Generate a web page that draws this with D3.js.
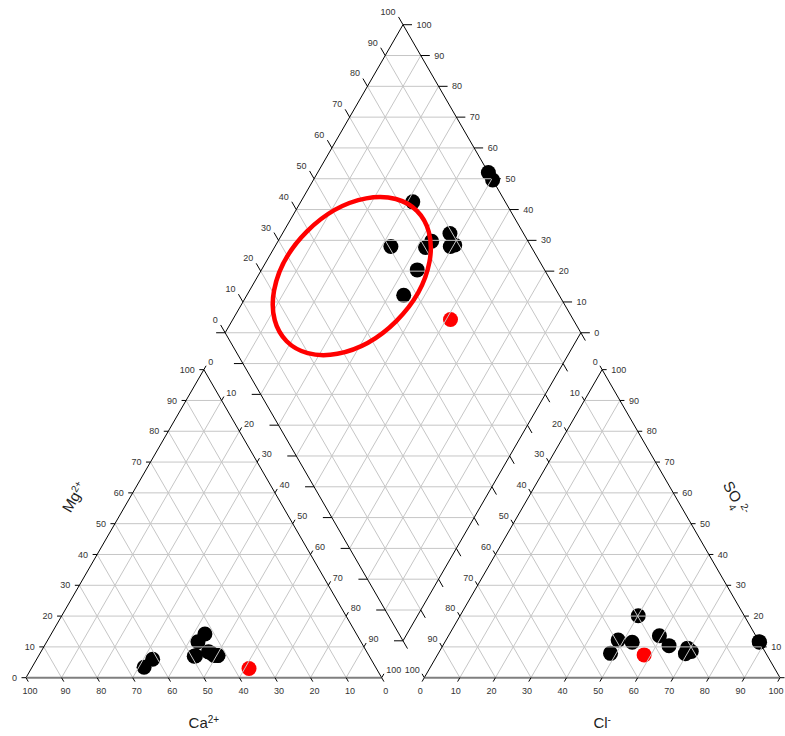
<!DOCTYPE html>
<html>
<head>
<meta charset="utf-8">
<script src="https://cdn.jsdelivr.net/npm/d3@7/dist/d3.min.js"></script>
<style>
  html, body { margin: 0; padding: 0; background: #fff; }
  svg { display: block; font-family: "Liberation Sans", Arial, sans-serif; }
</style>
</head>
<body>
<svg id="piper"></svg>
<script>
// samples (percent of meq)
const sampleIds = ['a', 'b', 'c', 'd', 'e', 'f', 'g', 'h', 'i', 'j', 'k', 'r'];
const ca  = [65.1, 61.4, 45.8, 42.6, 44.5, 42.5, 49.2, 48.8, 44.0, 42.4, 43.5, 35.8];
const mg  = [ 3.4,  6.0, 11.7, 14.2,  8.4,  7.2,  7.0,  7.1,  8.0,  7.2,  7.2,  3.0];
const cl  = [63.6, 48.4, 50.1, 59.3, 70.8, 69.2, 52.7, 48.4, 88.5, 88.3, 69.5, 58.1];
const so4 = [10.4, 12.2, 20.1, 13.6,  8.5,  9.6, 11.5,  7.9, 11.5, 11.7,  7.8,  7.4];
const group = ['base', 'base', 'base', 'base', 'base', 'base', 'base', 'base', 'base', 'base', 'base', 'other'];

const ticks = [0, 10, 20, 30, 40, 50, 60, 70, 80, 90, 100];
const gridSteps = [10, 20, 30, 40, 50, 60, 70, 80, 90];

// highlighted zone in the diamond (Na+K %, Cl+SO4 %, radii in % of a side)
const zoneCenter = [26.4, 44.8];
const zoneRadii = [25.9, 17.8];

const width = 785, height = 736;
const side = 355.7, gap = 42.6;
const x0 = 26, y0 = 677.7;
const h = side * Math.sqrt(3) / 2;
const colors = { base: '#000000', other: '#ff0000' };

const svg = d3.select('#piper').attr('width', width).attr('height', height);

const xCat = d3.scaleLinear().domain([0, 100]).range([x0, x0 + side]);
const xAn = d3.scaleLinear().domain([0, 100]).range([x0 + side + gap, x0 + 2 * side + gap]);
const yS = d3.scaleLinear().domain([0, 100]).range([y0, y0 - h]);
const len = d3.scaleLinear().domain([0, 100]).range([0, side]);

// b = bottom-right component, c = apex component
const cat = (b, c) => [xCat(b + c / 2), yS(c)];
const an = (b, c) => [xAn(b + c / 2), yS(c)];
const dia = (n, cs) => {
  const t = 100 + gap / side * 100 + cs - n;
  return [xCat(n + t / 2), yS(t)];
};

const samples = sampleIds.map((id, i) => ({
  id, group: group[i],
  cat: cat(100 - ca[i] - mg[i], mg[i]),
  an: an(cl[i], so4[i]),
  dia: dia(100 - ca[i] - mg[i], cl[i] + so4[i])
}));

// points (grid goes over them)
const pts = svg.append('g');
['cat', 'an', 'dia'].forEach(k => {
  pts.selectAll(null).data(samples).enter().append('circle')
    .attr('cx', d => d[k][0]).attr('cy', d => d[k][1]).attr('r', 7.5)
    .attr('fill', d => colors[d.group]);
});

// grid
const grid = svg.append('g').attr('stroke', '#c6c6c6').attr('stroke-width', 1).attr('fill', 'none');
const seg = (g, p, q) => g.append('line').attr('x1', p[0]).attr('y1', p[1]).attr('x2', q[0]).attr('y2', q[1]);

[cat, an].forEach(f => {
  gridSteps.forEach(v => {
    seg(grid, f(0, v), f(100 - v, v));
    seg(grid, f(100 - v, 0), f(0, 100 - v));
    seg(grid, f(v, 0), f(v, 100 - v));
  });
});
gridSteps.forEach(v => {
  seg(grid, dia(v, 0), dia(v, 100));
  seg(grid, dia(0, v), dia(100, v));
});
d3.range(-90, 100, 10).forEach(d => {
  if (d >= 0) seg(grid, dia(0, d), dia(100 - d, 100));
  else seg(grid, dia(-d, 0), dia(100, 100 + d));
});

// outlines
const edges = svg.append('g').attr('fill', 'none');
[cat, an].forEach(f => {
  edges.append('path').attr('stroke', '#000').attr('stroke-width', 1)
    .attr('d', d3.line()([f(0, 0), f(0, 100), f(100, 0)]));
  edges.append('path').attr('stroke', '#7f7f7f').attr('stroke-width', 2)
    .attr('d', d3.line()([f(0, 0), f(100, 0)]));
});
edges.append('path').attr('stroke', '#000').attr('stroke-width', 1)
  .attr('d', d3.line()([dia(0, 0), dia(0, 100), dia(100, 100), dia(100, 0)]) + 'Z');

// ticks and labels
const tk = svg.append('g').attr('stroke', '#000').attr('stroke-width', 1);
const lb = svg.append('g').attr('font-size', 9).attr('fill', '#333');
const c60 = 0.5, s60 = Math.sqrt(3) / 2;

function axis(pointFn, dir, tickLen, labelOff, anchor, textFn, fixedY) {
  ticks.forEach(v => {
    const p = pointFn(v);
    seg(tk, p, [p[0] + dir[0] * tickLen, p[1] + dir[1] * tickLen]);
    if (!textFn) return;
    const lx = p[0] + dir[0] * labelOff[0];
    const ly = fixedY != null ? fixedY : p[1] + dir[1] * labelOff[1];
    if (anchor === 'start' && lx + 6 > width) return; // falls outside the page
    lb.append('text').attr('x', lx).attr('y', ly).attr('dy', '0.35em')
      .attr('text-anchor', anchor).text(textFn(v));
  });
}

// cation triangle
axis(v => cat(0, v), [-1, 0], 4.5, [9, 0], 'end', v => v);
axis(v => cat(v, 0), [c60, s60], 4.5, [8, 0], 'middle', v => 100 - v, 691);
axis(v => cat(v, 100 - v), [c60, -s60], 4.5, [9, 9], 'start', v => v);
// anion triangle
axis(v => an(v, 0), [-c60, s60], 4.5, [8, 0], 'middle', v => v, 691);
axis(v => an(100 - v, v), [1, 0], 4.5, [9, 0], 'start', v => v);
axis(v => an(0, 100 - v), [-c60, -s60], 4.5, [9, 9], 'end', v => v);
// diamond
axis(v => dia(0, v), [-c60, -s60], 9, [15, 15], 'end', v => v);
axis(v => dia(v, 100), [1, 0], 9, [13.5, 0], 'start', v => 100 - v);
axis(v => dia(v, 0), [-1, 0], 9, [0, 0], 'end', null);
axis(v => dia(100, v), [c60, s60], 9, [0, 0], 'start', null);

// axis titles
const titles = svg.append('g').attr('font-size', 15).attr('fill', '#222');
function title(x, y, rot, parts) {
  const t = titles.append('text').attr('transform', `translate(${x},${y}) rotate(${rot})`)
    .attr('text-anchor', 'middle').attr('dy', '0.35em');
  parts.forEach(([txt, shift]) => {
    const s = t.append('tspan').text(txt);
    if (shift) s.attr('font-size', 10).attr('baseline-shift', shift);
  });
}
title(xCat(50), 723, 0, [['Ca'], ['2+', 'super']]);
title(xAn(50), 723, 0, [['Cl'], ['-', 'super']]);
title(74, 497, -60, [['Mg'], ['2+', 'super']]);
title(736, 498, 60, [['SO'], ['4', 'sub'], ['2-', 'super']]);

// highlighted zone
const zc = dia(zoneCenter[0], zoneCenter[1]);
svg.append('ellipse')
  .attr('cx', 0).attr('cy', 0).attr('rx', len(zoneRadii[0])).attr('ry', len(zoneRadii[1]))
  .attr('transform', `translate(${zc[0]},${zc[1]}) rotate(-45)`)
  .attr('fill', 'none').attr('stroke', '#ff0000').attr('stroke-width', 4.5);
</script>
</body>
</html>
